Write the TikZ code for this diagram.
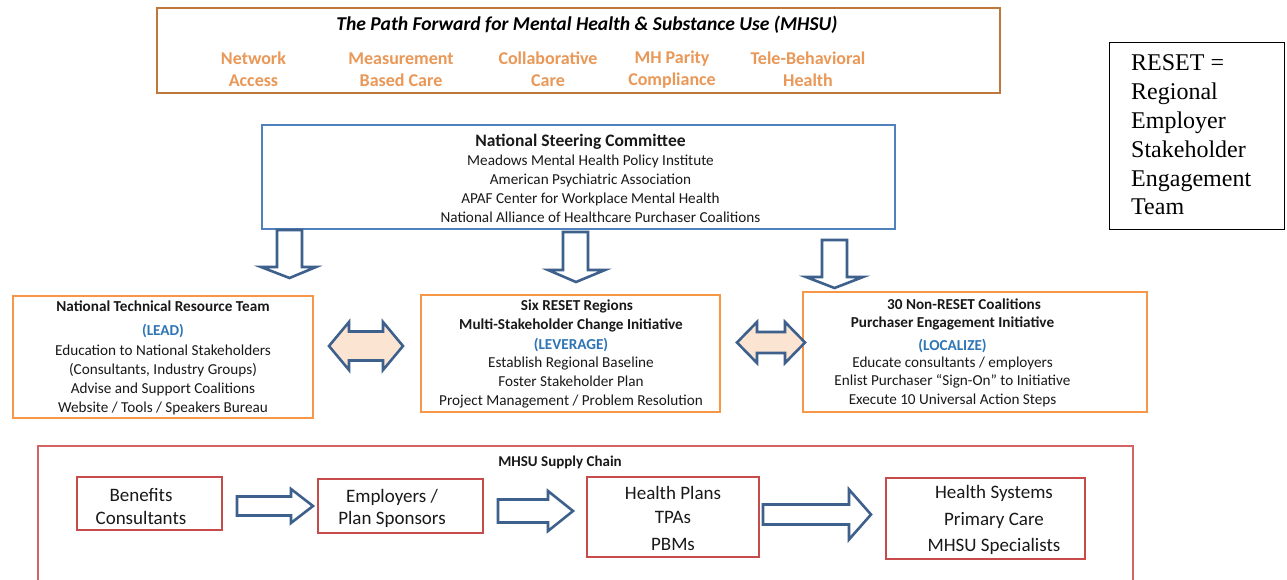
\documentclass[tikz,border=0pt]{standalone}
\usepackage{fontspec}
\setmainfont{Carlito}
\newfontfamily\timesf{Liberation Serif}
\definecolor{brownb}{RGB}{190,120,60}
\definecolor{orangetxt}{RGB}{233,152,88}
\definecolor{steerblue}{RGB}{79,129,189}
\definecolor{arrowblue}{RGB}{62,96,140}
\definecolor{orangeb}{RGB}{247,150,70}
\definecolor{labelblue}{RGB}{46,117,182}
\definecolor{peach}{RGB}{251,228,210}
\definecolor{redb}{RGB}{200,75,75}
\definecolor{redouter}{RGB}{212,100,100}
\definecolor{txtcol}{RGB}{25,25,25}
\begin{document}
\begin{tikzpicture}[x=1pt,y=-1pt,
  box/.style={draw, inner sep=0, line width=1.5pt},
  tx/.style={align=center, inner sep=0, text=txtcol, font=\fontsize{15.2}{19}\selectfont},
  orangetx/.style={align=center, inner sep=0, text=orangetxt, font=\fontsize{18}{22}\selectfont\bfseries},
  chaintx/.style={align=center, inner sep=0, text=txtcol, font=\fontsize{19}{24}\selectfont},
  blockarrow/.style={draw=arrowblue, line width=2.6pt, fill=white, line join=miter},
  dblarrow/.style={draw=arrowblue, line width=2.6pt, fill=peach, line join=miter}]
\useasboundingbox (0,0) rectangle (1287,579);
\fill[white] (0,0) rectangle (1287,579);

% top box
\node[box, draw=brownb, minimum width=843, minimum height=85] (top) at (578.5,50.5) {};
\node[inner sep=0, text=black, font=\fontsize{19.6}{22}\selectfont\bfseries\itshape] (title) at (587,25) {The Path Forward for Mental Health \& Substance Use (MHSU)};
\node[orangetx] (net) at (253.5,69.5) {Network\\Access};
\node[orangetx] (meas) at (401,69.5) {Measurement\\Based Care};
\node[orangetx] (coll) at (548,69.5) {Collaborative\\Care};
\node[orangetx] (parity) at (672,69.5) {MH Parity\\Compliance};
\node[orangetx] (tele) at (808,69.5) {Tele-Behavioral\\Health};

% steering committee
\node[box, draw=steerblue, minimum width=633, minimum height=104] (steer) at (578.5,177) {};
\node[tx] (steertext) at (590.5,178.5) {{\fontsize{17.5}{19}\selectfont\bfseries National Steering Committee\hspace*{20pt}}\\
Meadows Mental Health Policy Institute\hspace*{20pt}\\
American Psychiatric Association\hspace*{20pt}\\
APAF Center for Workplace Mental Health\hspace*{20pt}\\
\hspace*{20pt}National Alliance of Healthcare Purchaser Coalitions};

% down arrows
\draw[blockarrow] (277,230) -- (302,230) -- (302,267) -- (316,267) -- (289.5,278) -- (261,267) -- (277,267) -- cycle;
\draw[blockarrow] (563,232) -- (588,232) -- (588,270) -- (605,270) -- (576,282) -- (548,270) -- (563,270) -- cycle;
\draw[blockarrow] (822,240) -- (847,240) -- (847,277) -- (863,277) -- (834.5,288) -- (806,277) -- (822,277) -- cycle;

% three boxes
\node[box, draw=orangeb, minimum width=300, minimum height=122] (lead) at (163,357) {};
\node[tx] (leadtext) at (163,358) {{\bfseries National Technical Resource Team}\\[5pt]
{\color{labelblue}\bfseries (LEAD)}\\[1pt]
Education to National Stakeholders\\
(Consultants, Industry Groups)\\
Advise and Support Coalitions\\
Website / Tools / Speakers Bureau};

\node[box, draw=orangeb, minimum width=299, minimum height=117] (lev) at (570.5,353.5) {};
\node[tx] (levtext) at (571,354) {{\bfseries\hspace*{12pt}Six RESET Regions}\\
{\bfseries Multi-Stakeholder Change Initiative}\\[1pt]
{\color{labelblue}\bfseries (LEVERAGE)}\\[-1pt]
Establish Regional Baseline\\
Foster Stakeholder Plan\\
Project Management / Problem Resolution};

\node[box, draw=orangeb, minimum width=344, minimum height=120] (loc) at (975,352) {};
\node[tx] (loctext) at (952.5,352.5) {{\bfseries\hspace*{23pt}30 Non-RESET Coalitions}\\[-1pt]
{\bfseries Purchaser Engagement Initiative}\\[4pt]
{\color{labelblue}\bfseries (LOCALIZE)}\\[-2pt]
Educate consultants / employers\\[-1pt]
Enlist Purchaser “Sign-On” to Initiative\\
Execute 10 Universal Action Steps};

% double arrows
\draw[dblarrow] (329,346) -- (349,322) -- (349,331.5) -- (383,331.5) -- (383,322) -- (403,346) -- (383,370) -- (383,360.5) -- (349,360.5) -- (349,370) -- cycle;
\draw[dblarrow] (737,342.5) -- (757,322) -- (757,332) -- (785,332) -- (785,322) -- (805,342.5) -- (785,363) -- (785,353) -- (757,353) -- (757,363) -- cycle;

% RESET box
\node[draw=black, line width=1pt, inner sep=0, minimum width=175, minimum height=187] (reset) at (1196.5,135.5) {};
\node[inner sep=0, anchor=west, align=left, text=black, font=\timesf\fontsize{24}{28.8}\selectfont] (resettext) at (1131,135) {RESET =\\Regional\\Employer\\Stakeholder\\Engagement\\Team};

% supply chain
\draw[redouter, line width=1.5pt] (38,581) |- (1133,446) -- (1133,581);
\node[inner sep=0, text=txtcol, font=\fontsize{15}{18}\selectfont\bfseries] (chain) at (560,462) {MHSU Supply Chain};

\node[box, draw=redb, minimum width=145, minimum height=53] (ben) at (149.5,503.5) {};
\node[chaintx, font=\fontsize{19}{23}\selectfont] (bentext) at (141,506.5) {Benefits\\Consultants};
\node[box, draw=redb, minimum width=165, minimum height=54] (emp) at (400.5,506) {};
\node[chaintx, font=\fontsize{19}{22}\selectfont] (emptext) at (392,508) {Employers /\\Plan Sponsors};
\node[box, draw=redb, minimum width=172, minimum height=80] (hp) at (673,517) {};
\node[chaintx] (hptext) at (673,518.5) {Health Plans\\TPAs\\[3pt]PBMs};
\node[box, draw=redb, minimum width=199, minimum height=81] (hs) at (985.5,518.5) {};
\node[chaintx, font=\fontsize{19}{26.5}\selectfont] (hstext) at (994,520) {Health Systems\\Primary Care\\MHSU Specialists};

\draw[blockarrow] (237,496.5) -- (291,496.5) -- (291,489) -- (313,506) -- (291,523) -- (291,515.5) -- (237,515.5) -- cycle;
\draw[blockarrow] (498,499.5) -- (548,499.5) -- (548,491) -- (573,511) -- (548,531) -- (548,522.5) -- (498,522.5) -- cycle;
\draw[blockarrow] (763,504.5) -- (849,504.5) -- (849,489.5) -- (871,514.5) -- (849,539.5) -- (849,524.5) -- (763,524.5) -- cycle;
\end{tikzpicture}
\end{document}
